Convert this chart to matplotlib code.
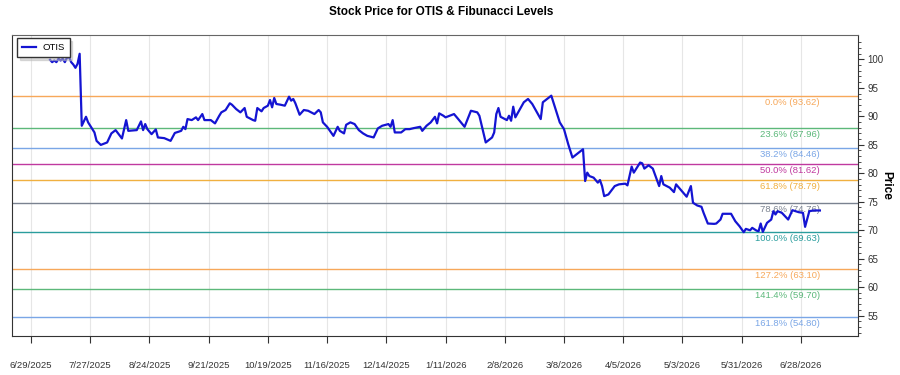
import matplotlib
matplotlib.use("Agg")
import matplotlib.pyplot as plt
import pandas as pd

plt.rcParams['font.family'] = ['Liberation Sans', 'DejaVu Sans']

# day offsets from 2025-06-29 and closing prices
days = [9, 10, 11, 12, 13, 14, 15, 16, 17, 18, 19, 20, 21, 22, 23, 24, 26, 27, 30, 31,
        33, 36, 38, 40, 43, 45, 46, 50, 52, 53, 54, 55, 57, 59, 60, 63, 66, 68, 71, 72,
        73, 74, 76, 78, 79, 81, 82, 85, 87, 89, 90, 92, 94, 95, 97, 99, 101, 102, 105, 106,
        107, 109, 110, 112, 113, 114, 115, 116, 118, 120, 122, 123, 124, 125, 127, 129, 131, 134, 136, 137,
        138, 140, 143, 145, 146, 148, 149, 151, 153, 155, 157, 159, 162, 164, 166, 169, 170, 171, 172, 175,
        177, 179, 181, 184, 185, 187, 189, 191, 192, 193, 195, 196, 200, 202, 205, 208, 211, 212, 215, 218,
        219, 220, 221, 222, 225, 226, 227, 228, 229, 233, 235, 237, 241, 242, 246, 248, 250, 252, 254, 256,
        258, 261, 262, 263, 264, 266, 268, 269, 270, 271, 273, 276, 278, 281, 282, 284, 285, 288, 289, 290,
        292, 294, 295, 297, 298, 299, 302, 304, 305, 307, 310, 312, 313, 315, 317, 318, 320, 323, 324, 326,
        327, 331, 333, 335, 337, 338, 340, 341, 343, 344, 345, 346, 348, 350, 351, 352, 353, 355, 358, 360,
        363, 365, 366, 368, 370, 373]
prices = [99.92, 99.51, 99.80, 99.51, 100.10, 99.80, 100.10, 99.51, 100.27, 100.40, 99.51, 99.09, 98.51, 99.21, 100.98, 88.33, 89.91, 88.93, 87.16, 85.68,
          84.97, 85.40, 86.99, 87.57, 86.10, 89.33, 87.44, 87.57, 89.10, 87.57, 88.63, 87.74, 86.86, 87.69, 86.28, 86.16, 85.68, 87.07, 87.44, 88.15,
          87.74, 89.51, 89.33, 89.81, 89.33, 90.39, 89.33, 89.33, 88.75, 90.09, 90.69, 91.10, 92.28, 92.03, 91.27, 90.69, 91.45, 89.91, 89.33, 89.21,
          91.45, 90.87, 91.45, 91.86, 92.86, 91.57, 93.21, 92.16, 92.03, 91.86, 93.44, 92.74, 93.04, 92.28, 90.27, 91.10, 90.97, 90.39, 91.10, 90.69,
          88.93, 88.15, 86.56, 88.15, 87.44, 86.99, 88.50, 88.93, 88.63, 87.57, 86.99, 86.56, 86.28, 87.87, 88.33, 88.63, 88.15, 89.33, 87.16, 87.16,
          87.74, 87.74, 87.92, 88.15, 87.44, 88.33, 88.93, 89.91, 88.75, 90.51, 90.09, 89.81, 90.39, 89.51, 88.15, 90.97, 90.69, 90.09, 85.40, 86.28,
          87.16, 90.39, 91.45, 89.91, 89.33, 90.09, 89.21, 91.68, 89.81, 92.46, 93.04, 92.16, 89.51, 92.46, 93.62, 91.27, 88.93, 87.74, 85.10, 82.75,
          83.33, 84.21, 78.62, 80.10, 79.50, 79.22, 78.34, 78.80, 77.74, 75.97, 76.27, 77.74, 78.04, 78.16, 77.86, 81.16, 80.10, 81.87, 81.74, 80.81,
          81.39, 80.81, 79.80, 77.74, 79.50, 78.04, 77.46, 76.68, 78.04, 77.16, 75.87, 77.74, 74.81, 74.33, 74.10, 73.04, 71.16, 71.10, 71.16, 71.86,
          72.87, 72.87, 71.56, 70.68, 69.63, 70.22, 69.97, 70.40, 69.92, 69.80, 71.16, 69.69, 71.28, 71.86, 73.33, 72.75, 73.33, 73.04, 71.86, 73.50,
          73.15, 73.04, 70.58, 73.33, 73.45, 73.45]

fib_ratios = [0.0, 0.236, 0.382, 0.5, 0.618, 0.786, 1.0, 1.272, 1.414, 1.618]
fib_colors = ['#f7a85a', '#5cb87a', '#7aa6e6', '#c0399f', '#f0b040',
              '#7a8290', '#2a9d9d', '#f7a85a', '#5cb87a', '#7aa6e6']
fib_high = 93.62
fib_low = 69.63

start = pd.Timestamp('2025-06-29')
dates = [start + pd.Timedelta(days=d) for d in days]
tick_dates = [start + pd.Timedelta(days=28 * i) for i in range(14)]

fig = plt.figure(figsize=(9, 3.75), dpi=100)
ax = fig.add_axes([0.0133, 0.104, 0.94, 0.803])

for r, c in zip(fib_ratios, fib_colors):
    lvl = fib_high - r * (fib_high - fib_low)
    ax.axhline(lvl, color=c, lw=1, zorder=1)
    ax.annotate('%.1f%% (%.2f)' % (r * 100, lvl), xy=(dates[-1], lvl), xytext=(0, -1.5),
                textcoords='offset points', ha='right', va='top', color=c, fontsize=6.8)

ax.plot(dates, prices, color='#1414d2', lw=1.6, label='OTIS', zorder=3)

ax.set_xlim(start + pd.Timedelta(days=-9), start + pd.Timedelta(days=391))
ax.set_ylim(51.4, 104.3)

ax.set_xticks(tick_dates)
ax.set_xticklabels(['%d/%d/%d' % (t.month, t.day, t.year) for t in tick_dates])
ax.grid(axis='x', color='#e6e6e6', lw=0.8)
ax.set_axisbelow(True)

ax.yaxis.tick_right()
ax.yaxis.set_label_position('right')
ax.set_yticks(range(55, 101, 5))
ax.set_yticks(range(52, 104), minor=True)
ax.tick_params(axis='y', which='major', length=4, labelsize=7, pad=3, colors='#333333')
ax.tick_params(axis='y', which='minor', length=2, color='#333333')
ax.tick_params(axis='x', length=5, labelsize=6.8, pad=13, colors='#333333')
ax.set_ylabel('Price', fontsize=8.5, fontweight='bold', rotation=270, labelpad=6)

for s in ax.spines.values():
    s.set_color('#333333')
ax.spines['top'].set_color('#666666')

ax.legend(loc='upper left', fontsize=6.8, handlelength=1.5, handletextpad=0.6, fancybox=False,
          shadow={'color': '#bbbbbb'}, edgecolor='#333333', borderpad=0.55,
          borderaxespad=0, bbox_to_anchor=(0.006, 0.99))

fig.suptitle('Stock Price for OTIS & Fibunacci Levels', fontsize=8.5, fontweight='bold',
             x=0.49, y=0.985)

fig.savefig('out.png', dpi=100)
